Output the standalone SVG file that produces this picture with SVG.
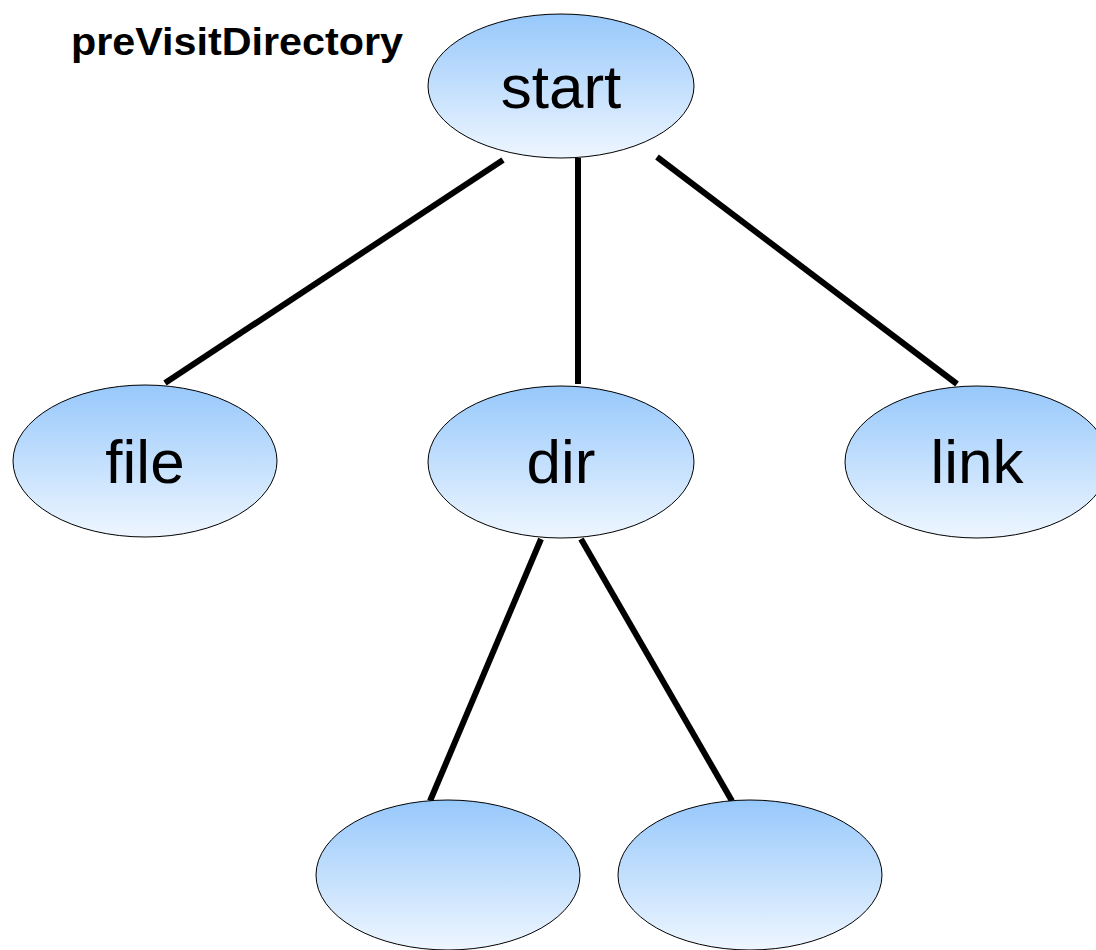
<svg xmlns="http://www.w3.org/2000/svg" width="1096" height="950" viewBox="0 0 1096 950">
<defs>
<linearGradient id="g" x1="0" y1="0" x2="0" y2="1">
<stop offset="0" stop-color="#97c8fb"/>
<stop offset="1" stop-color="#eef6ff"/>
</linearGradient>
<style>
.n ellipse{fill:url(#g);stroke:#000;stroke-width:1}
.n text{font-family:"Liberation Sans",Arial,sans-serif;font-size:62px;text-anchor:middle;fill:#000}
.c line{stroke:#000;stroke-width:6}
.lbl{font-family:"Liberation Sans",Arial,sans-serif;font-weight:bold;font-size:38px;fill:#000}
</style>
</defs>
<rect width="1096" height="950" fill="#fff"/>
<g id="connectors" class="c">
<line x1="503" y1="160" x2="165" y2="383"/>
<line x1="578" y1="158" x2="578" y2="384"/>
<line x1="657" y1="157" x2="957" y2="384"/>
<line x1="541" y1="539" x2="430" y2="801"/>
<line x1="581" y1="539" x2="732" y2="801"/>
</g>
<text class="lbl" x="71" y="55" textLength="332" lengthAdjust="spacingAndGlyphs">preVisitDirectory</text>
<g id="start" class="n"><ellipse cx="561" cy="86" rx="133" ry="72"/><text x="561" y="108">start</text></g>
<g id="file" class="n"><ellipse cx="145" cy="461" rx="132" ry="76"/><text x="145" y="483">file</text></g>
<g id="dir" class="n"><ellipse cx="561" cy="462" rx="133" ry="76"/><text x="561" y="483">dir</text></g>
<g id="link" class="n"><ellipse cx="977" cy="462" rx="132" ry="76"/><text x="977" y="483">link</text></g>
<g id="leaf1" class="n"><ellipse cx="448" cy="875" rx="132" ry="75"/></g>
<g id="leaf2" class="n"><ellipse cx="750" cy="875" rx="132" ry="75"/></g>
</svg>
